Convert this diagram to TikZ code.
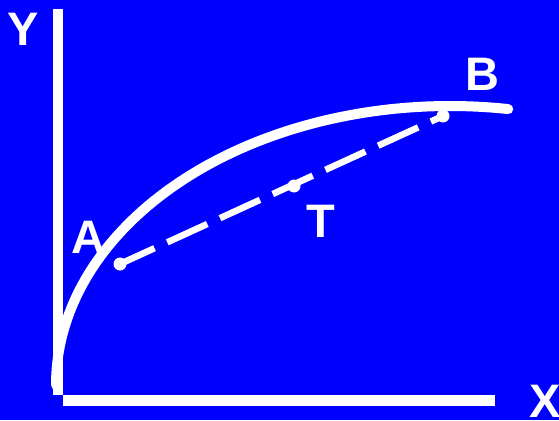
\documentclass[tikz,border=0pt]{standalone}
\usepackage{fontspec}
\setmainfont{Liberation Sans}
\definecolor{screenblue}{RGB}{0,0,255}

\begin{document}
\begin{tikzpicture}[
        x=1pt, y=-1pt,
        axis/.style={line width=10.5pt, white},
        curve/.style={line width=10pt, white, line cap=round},
        chord/.style={line width=6.5pt, white, dash pattern=on 44pt off 14pt, dash phase=6pt},
        dot/.style={circle, fill=white, inner sep=0pt, minimum size=13pt},
        lbl/.style={text=white, inner sep=0pt, font=\fontsize{47}{50}\selectfont\bfseries}
    ]
        % Background
        \fill[screenblue] (0,0) rectangle (559,420);
        \useasboundingbox (0,0) rectangle (559,420);

        % Axes
        \coordinate (ytop) at (58,9);
        \coordinate (ybot) at (58,395);
        \coordinate (xleft) at (63,400.5);
        \coordinate (xright) at (495,400.5);
        \draw[axis] (ytop) -- (ybot);
        \draw[axis] (xleft) -- (xright);
        \node[lbl] (ylab) at (23.5,29.5) {Y};
        \node[lbl] (xlab) at (545.5,401.5) {X};

        % Curve (quarter ellipse, running on a bit past its top)
        \draw[curve] plot[domain=180:81.5, samples=80, smooth] ({450+394*cos(\x)}, {385-279*sin(\x)});

        % Points and chord
        \node[dot] (A) at (120,264) {};
        \node[dot] (T) at (294,186) {};
        \node[dot] (B) at (443,116) {};
        \draw[chord] (A.center) -- (B.center);

        % Labels
        \node[lbl] (alab) at (88,237.5) {A};
        \node[lbl] (tlab) at (321,221) {T};
        \node[lbl] (blab) at (482,74.5) {B};
    \end{tikzpicture}
\end{document}
